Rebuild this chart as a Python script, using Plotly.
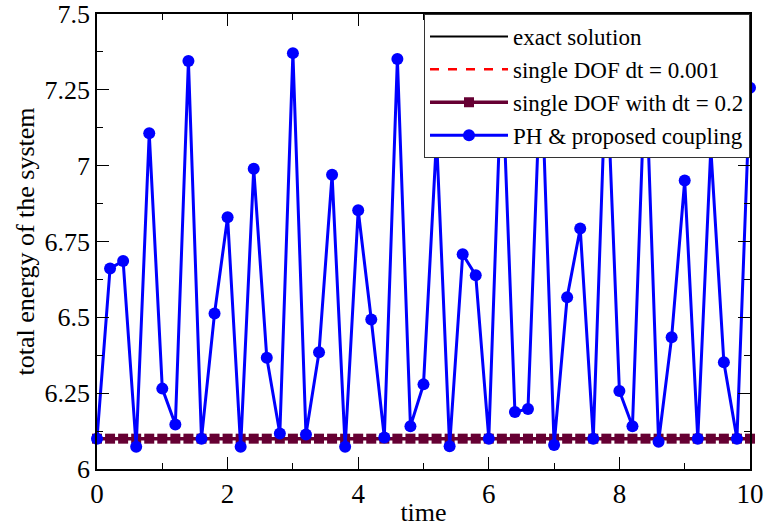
import plotly.graph_objects as go

time = [round(0.2 * i, 1) for i in range(51)]
ph_energy = [6.100, 6.661, 6.686, 6.073, 7.107, 6.265, 6.147, 7.345, 6.100, 6.513,
             6.830, 6.073, 6.990, 6.367, 6.117, 7.371, 6.114, 6.385, 6.970, 6.073,
             6.853, 6.493, 6.104, 7.352, 6.141, 6.279, 7.091, 6.075, 6.708, 6.639,
             6.100, 7.330, 6.188, 6.198, 7.340, 6.079, 6.566, 6.793, 6.100, 7.345,
             6.257, 6.141, 7.335, 6.090, 6.434, 6.951, 6.100, 7.057, 6.352, 6.100,
             7.257]
exact_energy = [6.1] * 51
single_fine = [6.1] * 51
single_coarse = [6.1] * 51

FONT = "serif"

fig = go.Figure()
fig.add_trace(go.Scatter(x=time, y=exact_energy, mode="lines", name="exact solution",
                         line=dict(color="black", width=2), cliponaxis=False))
fig.add_trace(go.Scatter(x=time, y=single_fine, mode="lines", name="single DOF dt = 0.001",
                         line=dict(color="red", width=2.5, dash="dash"), cliponaxis=False))
fig.add_trace(go.Scatter(x=time, y=single_coarse, mode="lines+markers",
                         name="single DOF with dt = 0.2",
                         line=dict(color="#660033", width=3.5),
                         marker=dict(symbol="square", size=10, color="#660033"),
                         cliponaxis=False))
fig.add_trace(go.Scatter(x=time, y=ph_energy, mode="lines+markers",
                         name="PH & proposed coupling",
                         line=dict(color="#0000ff", width=3),
                         marker=dict(symbol="circle", size=12, color="#0000ff"),
                         cliponaxis=False))

fig.update_layout(
    width=765, height=527,
    margin=dict(l=97, r=15, t=14, b=58, autoexpand=False),
    paper_bgcolor="white", plot_bgcolor="white",
    font=dict(family=FONT, color="black"),
    showlegend=True,
    legend=dict(x=1, y=1, xanchor="right", yanchor="top",
                bgcolor="white", bordercolor="#333333", borderwidth=1,
                font=dict(family=FONT, size=23, color="black"),
                itemwidth=78, tracegroupgap=0),
)
fig.update_xaxes(range=[0, 10], dtick=2, tick0=0, automargin=False,
                 ticklabeloverflow="allow",
                 showline=True, linecolor="black", linewidth=1.5, mirror="ticks",
                 ticks="inside", ticklen=12, tickcolor="black", tickwidth=1,
                 showgrid=False, zeroline=False,
                 minor=dict(ticks="inside", ticklen=6, dtick=1, tickcolor="black", showgrid=False),
                 tickfont=dict(family=FONT, size=27),
                 title=dict(text="time", font=dict(family=FONT, size=26), standoff=2))
fig.update_yaxes(range=[6, 7.5], dtick=0.25, tick0=6, automargin=False,
                 ticklabeloverflow="allow",
                 showline=True, linecolor="black", linewidth=1.5, mirror="ticks",
                 ticks="inside", ticklen=12, tickcolor="black", tickwidth=1,
                 showgrid=False, zeroline=False,
                 minor=dict(ticks="inside", ticklen=6, dtick=0.125, tickcolor="black", showgrid=False),
                 tickfont=dict(family=FONT, size=26),
                 title=dict(text="total energy of the system", font=dict(family=FONT, size=26), standoff=2))

fig.write_html("out.html",
               config={"displayModeBar": False},
               post_script="document.body.style.margin='0';document.documentElement.style.margin='0';")
